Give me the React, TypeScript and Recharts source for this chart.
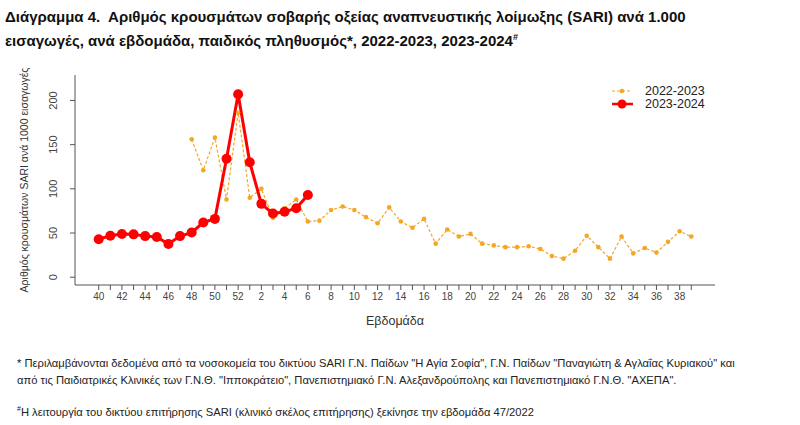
import { LineChart, Line, XAxis, YAxis } from 'recharts';

// weeks of the season, week 40 to week 39 of the next year
const weeks = [
  40, 41, 42, 43, 44, 45, 46, 47, 48, 49, 50, 51, 52,
  1, 2, 3, 4, 5, 6, 7, 8, 9, 10, 11, 12, 13, 14, 15, 16, 17, 18, 19, 20,
  21, 22, 23, 24, 25, 26, 27, 28, 29, 30, 31, 32, 33, 34, 35, 36, 37, 38, 39,
];

// SARI cases per 1000 admissions
const season2223 = [
  null, null, null, null, null, null, null, null, 156, 121, 158, 88, 186,
  90, 100, 67, 78, 88, 63, 64, 76, 80, 76, 68, 61, 79, 63, 56, 66, 38, 54, 46, 49,
  38, 36, 34, 34, 35, 32, 24, 21, 30, 47, 34, 21, 46, 27, 33, 28, 40, 52, 46,
];

const season2324 = [
  43, 47, 49, 48.5, 46.5, 45.5, 37.5, 46.5, 50.5, 62, 66, 134, 207,
  130, 83, 72, 74, 78, 93, null, null, null, null, null, null, null, null, null, null, null, null, null, null,
  null, null, null, null, null, null, null, null, null, null, null, null, null, null, null, null, null, null, null,
];

const yTicks = [0, 50, 100, 150, 200];

const data = weeks.map((w, i) => ({ i, week: w, s2223: season2223[i], s2324: season2324[i] }));
const xTicks = data.map((d) => d.i);

const ORANGE = '#F5A623';
const RED = '#FF0000';
const AXIS = '#555';
const FONT = '"Liberation Sans", Arial, sans-serif';

function YTick({ x, y, payload }: any) {
  const cx = x - 17;
  return (
    <text
      x={cx}
      y={y}
      transform={`rotate(-90 ${cx} ${y})`}
      textAnchor="middle"
      dominantBaseline="central"
      fontSize={11}
      fill="#444"
      fontFamily={FONT}
    >
      {payload.value}
    </text>
  );
}

function LegendBox() {
  return (
    <svg width={130} height={30} style={{ position: 'absolute', left: 600, top: 83, overflow: 'visible' }}>
      <line x1={12} y1={8} x2={32} y2={8} stroke={ORANGE} strokeWidth={1.2} strokeDasharray="3 2" />
      <circle cx={22} cy={8} r={2.3} fill={ORANGE} />
      <text x={45} y={8} dominantBaseline="central" fontSize={12.5} fill="#222" fontFamily={FONT}>2022-2023</text>
      <line x1={12} y1={21} x2={33} y2={21} stroke={RED} strokeWidth={2.5} />
      <circle cx={22} cy={21} r={4.5} fill={RED} />
      <text x={45} y={21} dominantBaseline="central" fontSize={12.5} fill="#222" fontFamily={FONT}>2023-2024</text>
    </svg>
  );
}

export default function App() {
  return (
    <div style={{ position: 'absolute', left: 0, top: 0, width: 800, height: 425, background: '#fff' }}>
      <div
        style={{
          position: 'absolute', left: 5, top: 7, fontFamily: FONT, fontWeight: 'bold',
          fontSize: 15, lineHeight: '20px', color: '#111', whiteSpace: 'nowrap',
        }}
      >
        <div>Διάγραμμα 4.&nbsp; Αριθμός κρουσμάτων σοβαρής οξείας αναπνευστικής λοίμωξης (SARI) ανά 1.000</div>
        <div>
          εισαγωγές, ανά εβδομάδα, παιδικός πληθυσμός*, 2022-2023, 2023-2024<sup style={{ fontSize: 9 }}>#</sup>
        </div>
      </div>

      <LineChart
        width={800}
        height={425}
        data={data}
        margin={{ top: 75, right: 85, bottom: 110, left: 35 }}
        style={{ position: 'absolute', left: 0, top: 0 }}
      >
        <XAxis
          type="number"
          dataKey="i"
          domain={[-2.04, 53.04]}
          ticks={xTicks}
          interval={0}
          height={30}
          tickSize={5}
          tickMargin={3}
          allowDataOverflow
          stroke={AXIS}
          tick={{ fontSize: 10, fill: '#444', fontFamily: FONT }}
          tickFormatter={(v: number) => (weeks[v] % 2 === 0 ? String(weeks[v]) : '')}
          label={{ value: 'Εβδομάδα', position: 'insideBottom', offset: -10, fontSize: 12.5, fill: '#333', fontFamily: FONT }}
        />
        <YAxis
          type="number"
          domain={[-8.8, 228.8]}
          ticks={yTicks}
          width={40}
          tickSize={5}
          tickMargin={0}
          allowDataOverflow
          stroke={AXIS}
          tick={<YTick />}
          label={{
            value: 'Αριθμός κρουσμάτων SARI ανά 1000 εισαγωγές',
            angle: -90,
            position: 'left',
            offset: 11,
            fontSize: 10.5,
            fill: '#333',
            fontFamily: FONT,
            style: { textAnchor: 'middle' },
          }}
        />
        <Line
          type="linear"
          dataKey="s2223"
          name="2022-2023"
          stroke={ORANGE}
          strokeWidth={1.2}
          strokeDasharray="3 2"
          dot={{ r: 2.3, fill: ORANGE, stroke: 'none' }}
          activeDot={false}
          isAnimationActive={false}
        />
        <Line
          type="linear"
          dataKey="s2324"
          name="2023-2024"
          stroke={RED}
          strokeWidth={3}
          dot={{ r: 5, fill: RED, stroke: 'none' }}
          activeDot={false}
          isAnimationActive={false}
        />
      </LineChart>

      <LegendBox />

      <div
        style={{
          position: 'absolute', left: 17, top: 355, fontFamily: FONT, fontSize: 11.2,
          lineHeight: '17px', color: '#222', whiteSpace: 'nowrap',
        }}
      >
        <div>* Περιλαμβάνονται δεδομένα από τα νοσοκομεία του δικτύου SARI Γ.Ν. Παίδων "Η Αγία Σοφία", Γ.Ν. Παίδων "Παναγιώτη &amp; Αγλαΐας Κυριακού" και</div>
        <div>από τις Παιδιατρικές Κλινικές των Γ.Ν.Θ. "Ιπποκράτειο", Πανεπιστημιακό Γ.Ν. Αλεξανδρούπολης και Πανεπιστημιακό Γ.Ν.Θ. "ΑΧΕΠΑ".</div>
        <div style={{ marginTop: 11 }}>
          <sup style={{ fontSize: 7 }}>#</sup>Η λειτουργία του δικτύου επιτήρησης SARI (κλινικό σκέλος επιτήρησης) ξεκίνησε την εβδομάδα 47/2022
        </div>
      </div>
    </div>
  );
}
